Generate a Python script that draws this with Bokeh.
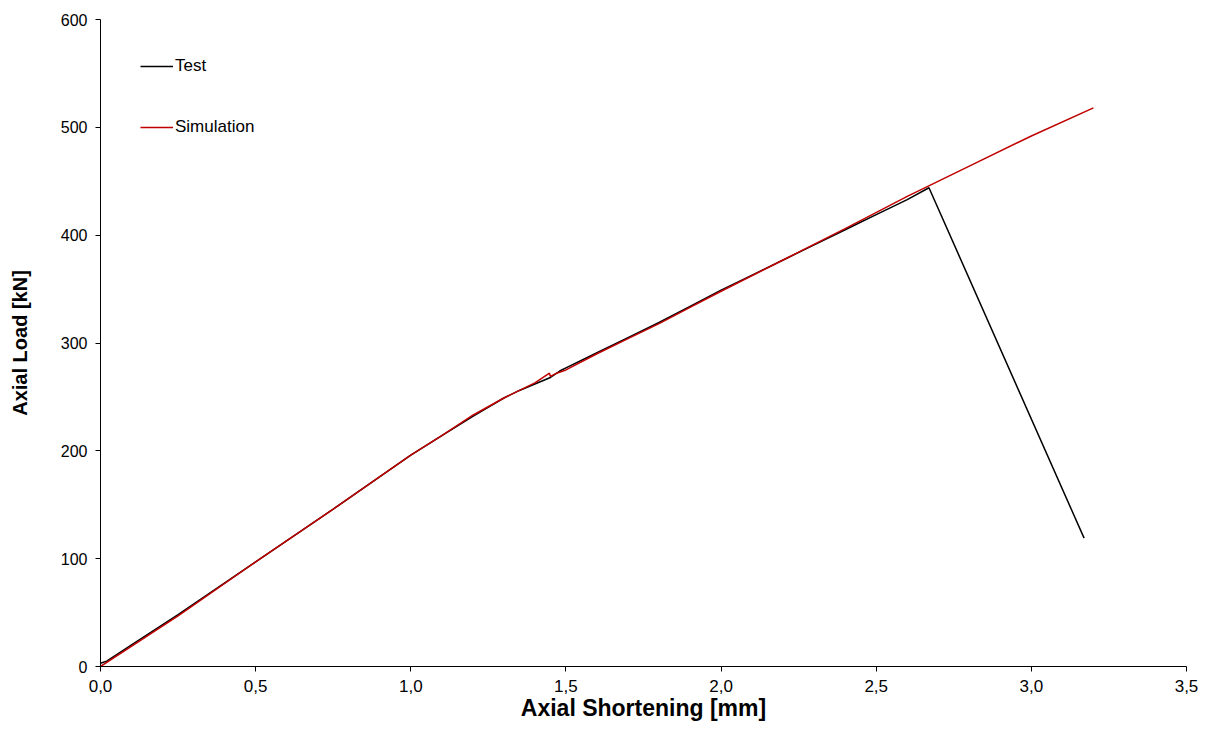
from bokeh.plotting import figure
from bokeh.models import Range1d, Legend, LegendItem, CustomJSTickFormatter, FixedTicker
from bokeh.embed import file_html
from bokeh.resources import INLINE

# Test data (Axial Shortening [mm], Axial Load [kN])
test_x = [0.0, 0.02, 0.10, 0.25, 0.50, 0.75, 1.00, 1.10, 1.20, 1.30, 1.35, 1.40, 1.45,
          1.48, 1.50, 1.60, 1.70, 1.80, 1.90, 2.00, 2.10, 2.20, 2.30, 2.40, 2.50, 2.60,
          2.67, 3.17]
test_y = [3, 5, 20, 48, 97, 146, 196, 214, 232, 249, 256, 262, 268,
          274, 277, 291, 305, 319, 334, 349, 363, 377, 391, 405, 419, 433,
          444, 119]

# Simulation data
sim_x = [0.0, 0.25, 0.50, 0.75, 1.00, 1.10, 1.20, 1.30, 1.40, 1.447, 1.45, 1.47, 1.50,
         1.60, 1.70, 1.80, 1.90, 2.00, 2.20, 2.40, 2.60, 2.80, 3.00, 3.20]
sim_y = [0, 47, 97, 146, 196, 214, 233, 249, 263, 272, 269, 272, 275,
         290, 304, 318, 333, 348, 377, 406, 436, 464, 492, 518]

x_ticks = [0.0, 0.5, 1.0, 1.5, 2.0, 2.5, 3.0, 3.5]
y_ticks = [0, 100, 200, 300, 400, 500, 600]

FONT = "Liberation Sans"

p = figure(width=1199, height=730, output_backend="svg", toolbar_location=None,
           x_range=Range1d(0, 3.5), y_range=Range1d(0, 600),
           min_border_left=100, min_border_right=13, min_border_top=19, min_border_bottom=64)
p.outline_line_color = None
p.xgrid.grid_line_color = None
p.ygrid.grid_line_color = None

r_test = p.line(test_x, test_y, line_color="black", line_width=1.5)
r_sim = p.line(sim_x, sim_y, line_color="#C00000", line_width=1.5)

for ax in (p.xaxis[0], p.yaxis[0]):
    ax.axis_line_color = "black"
    ax.axis_line_width = 1
    ax.major_tick_in = 0
    ax.major_tick_out = 5
    ax.major_tick_line_color = "black"
    ax.minor_tick_line_color = None
    ax.major_label_text_font = FONT
    ax.major_label_text_color = "black"
    ax.axis_label_text_font = FONT
    ax.axis_label_text_font_style = "bold"
    ax.axis_label_text_color = "black"

p.xaxis[0].major_label_text_font_size = "17px"
p.yaxis[0].major_label_text_font_size = "16px"
p.xaxis[0].axis_label_text_font_size = "23px"
p.yaxis[0].axis_label_text_font_size = "20px"

p.xaxis[0].ticker = FixedTicker(ticks=x_ticks)
p.yaxis[0].ticker = FixedTicker(ticks=y_ticks)
p.xaxis[0].formatter = CustomJSTickFormatter(code="return tick.toFixed(1).replace('.', ',');")
p.yaxis[0].formatter = CustomJSTickFormatter(code="return tick.toFixed(0);")
p.xaxis[0].axis_label = "Axial Shortening [mm]"
p.yaxis[0].axis_label = "Axial Load [kN]"
p.xaxis[0].major_label_standoff = 8
p.yaxis[0].major_label_standoff = 8
p.xaxis[0].axis_label_standoff = 0
p.yaxis[0].axis_label_standoff = 27

legend = Legend(items=[LegendItem(label="Test", renderers=[r_test]),
                       LegendItem(label="Simulation", renderers=[r_sim])],
                location=(40, 529), orientation="vertical")
legend.border_line_color = None
legend.background_fill_alpha = 0
legend.padding = 0
legend.margin = 0
legend.spacing = 41
legend.glyph_width = 33
legend.glyph_height = 20
legend.label_height = 20
legend.label_standoff = 2
legend.label_text_font = FONT
legend.label_text_font_size = "17px"
legend.label_text_color = "black"
p.add_layout(legend, "center")

open("out.html", "w").write(file_html(p, INLINE))
